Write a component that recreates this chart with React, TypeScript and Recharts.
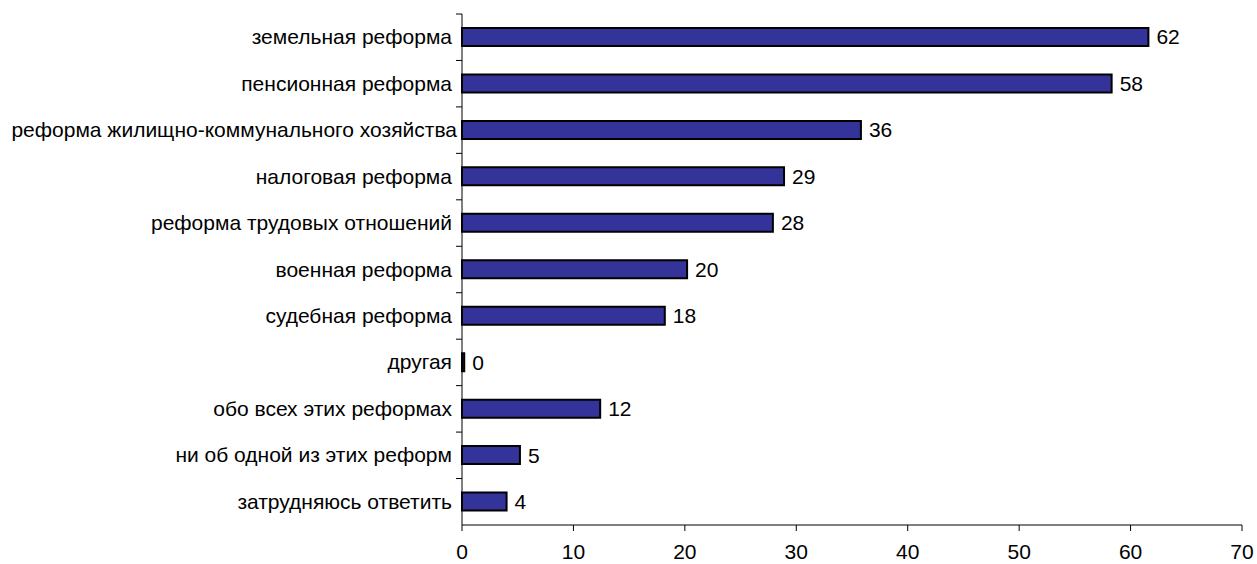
import { BarChart, Bar, XAxis, YAxis, LabelList } from 'recharts';

const categories = [
    'земельная реформа',
    'пенсионная реформа',
    'реформа жилищно-коммунального хозяйства',
    'налоговая реформа',
    'реформа трудовых отношений',
    'военная реформа',
    'судебная реформа',
    'другая',
    'обо всех этих реформах',
    'ни об одной из этих реформ',
    'затрудняюсь ответить',
];
const values = [61.6, 58.3, 35.8, 28.9, 27.9, 20.2, 18.2, 0.2, 12.4, 5.2, 4.0];
const xTicks = [0, 10, 20, 30, 40, 50, 60, 70];

const data = categories.map((name, i) => ({ name, value: values[i] }));

const W = 1257;
const H = 564;
const TOP = 14;
const BOTTOM = 525;
const AXIS_X = 462;
const band = (BOTTOM - TOP) / categories.length;

const font = 'Liberation Sans, Arial, sans-serif';
const FS = 21;

function CategoryTick(props: any) {
    const { y, payload } = props;
    const long = String(payload.value).length > 30;
    return (
        <g>
            <line x1={AXIS_X - 6} x2={AXIS_X} y1={y - band / 2} y2={y - band / 2} stroke="#000" strokeWidth={1} />
            <text x={AXIS_X - (long ? 5 : 10)} y={y} dy={7} textAnchor="end" fontSize={FS} fontFamily={font} fill="#000">
                {payload.value}
            </text>
        </g>
    );
}

export default function App() {
    return (
        <div style={{ position: 'fixed', left: 0, top: 0, background: '#fff' }}>
            <BarChart
                width={W}
                height={H}
                data={data}
                layout="vertical"
                margin={{ top: TOP, right: 15, bottom: 0, left: 0 }}
                barCategoryGap="0%"
            >
                <XAxis
                    type="number"
                    domain={[0, 70]}
                    ticks={xTicks}
                    interval={0}
                    height={H - BOTTOM}
                    stroke="#000"
                    tickSize={6}
                    tickMargin={13}
                    tick={{ fontSize: FS, fontFamily: font, fill: '#000' }}
                />
                <YAxis
                    type="category"
                    dataKey="name"
                    width={AXIS_X}
                    stroke="#000"
                    tickLine={false}
                    interval={0}
                    tick={<CategoryTick />}
                />
                <Bar dataKey="value" fill="#333399" stroke="#000" strokeWidth={2} barSize={18} isAnimationActive={false}>
                    <LabelList
                        dataKey="value"
                        position="right"
                        offset={8}
                        formatter={(v: any) => Math.round(Number(v))}
                        style={{ fontSize: FS, fontFamily: font, fill: '#000' }}
                    />
                </Bar>
            </BarChart>
        </div>
    );
}
